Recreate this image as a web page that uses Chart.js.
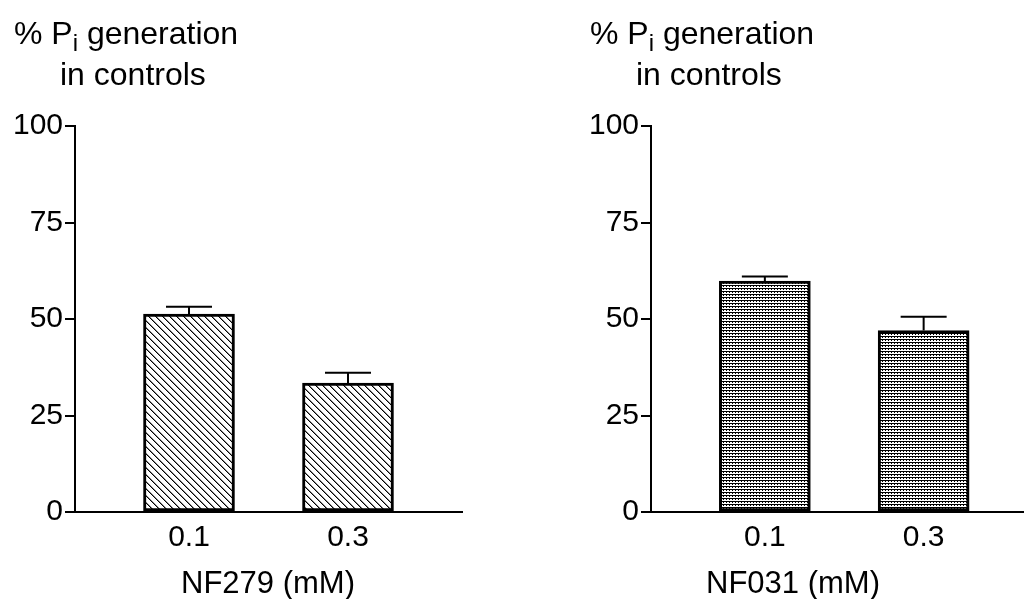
<!DOCTYPE html>
<html>
<head>
<meta charset="utf-8">
<script src="https://cdn.jsdelivr.net/npm/chart.js@4.4.1/dist/chart.umd.min.js"></script>
<style>
  html, body { margin: 0; padding: 0; background: #fff; overflow: hidden; }
  canvas { position: absolute; top: 0; }
  #nf279Chart { left: 0; }
  #nf031Chart { left: 512px; }
</style>
</head>
<body>
<canvas id="nf279Chart" width="512" height="599"></canvas>
<canvas id="nf031Chart" width="512" height="599"></canvas>
<script>
// dose groups and results, % of control Pi generation (mean, SEM)
const doseLabels = ['0.1', '0.3'];
const nf279Mean = [51.3, 33.4];
const nf279Sem = [1.9, 2.7];
const nf031Mean = [59.8, 47.0];
const nf031Sem = [1.2, 3.6];
const yTicks = [0, 25, 50, 75, 100];

const FONT = '"Liberation Sans", Arial, Helvetica, sans-serif';
Chart.defaults.font.family = FONT;
Chart.defaults.color = '#000';

// diagonal hatch fill
function hatchPattern() {
  const c = document.createElement('canvas');
  c.width = 7; c.height = 7;
  const g = c.getContext('2d');
  g.fillStyle = '#fff';
  g.fillRect(0, 0, 7, 7);
  for (let i = 0; i < 7; i++) {
    g.fillStyle = '#000';
    g.fillRect(i, i, 1, 1);
    g.fillStyle = '#888';
    g.fillRect((i + 1) % 7, i, 1, 1);
  }
  return g.createPattern(c, 'repeat');
}

// fine stipple fill: dotted rows
function stipplePattern() {
  const c = document.createElement('canvas');
  c.width = 3; c.height = 3;
  const g = c.getContext('2d');
  g.fillStyle = '#fff';
  g.fillRect(0, 0, 3, 3);
  g.fillStyle = '#000';
  g.fillRect(0, 0, 3, 1);
  g.fillRect(1, 1, 1, 1);
  return g.createPattern(c, 'repeat');
}

// upper error bars (SEM)
const errorBars = {
  id: 'errorBars',
  afterDatasetsDraw(chart) {
    const { ctx } = chart;
    const yScale = chart.scales.y;
    chart.data.datasets.forEach((ds, di) => {
      chart.getDatasetMeta(di).data.forEach((bar, i) => {
        const top = yScale.getPixelForValue(ds.data[i].y + ds.sems[i]);
        ctx.save();
        ctx.strokeStyle = '#000';
        ctx.lineWidth = 2;
        ctx.beginPath();
        ctx.moveTo(bar.x, bar.y);
        ctx.lineTo(bar.x, top);
        ctx.moveTo(bar.x - 23, top);
        ctx.lineTo(bar.x + 23, top);
        ctx.stroke();
        ctx.restore();
      });
    });
  }
};

// horizontal y-axis title with subscript, plus x-axis title
const panelText = {
  id: 'panelText',
  afterDraw(chart, args, opts) {
    const { ctx, chartArea } = chart;
    ctx.save();
    ctx.fillStyle = '#000';
    ctx.textBaseline = 'alphabetic';
    ctx.textAlign = 'left';
    let x = chartArea.left - 61;
    ctx.font = '32px ' + FONT;
    ctx.fillText('% P', x, 44);
    x += ctx.measureText('% P').width;
    ctx.font = '24px ' + FONT;
    ctx.fillText('i', x, 51);
    x += ctx.measureText('i').width;
    ctx.font = '32px ' + FONT;
    ctx.fillText(' generation', x, 44);
    ctx.fillText('in controls', chartArea.left - 15, 85);
    ctx.font = '31px ' + FONT;
    ctx.textAlign = 'center';
    ctx.fillText(opts.xTitle, opts.xTitleCenter, 593);
    ctx.restore();
  }
};

function makeChart(id, means, sems, fill, cfg) {
  return new Chart(document.getElementById(id), {
    type: 'bar',
    data: {
      datasets: [{
        data: means.map((v, i) => ({ x: i, y: v })),
        sems: sems,
        backgroundColor: fill,
        borderColor: '#000',
        borderWidth: 3,
        borderSkipped: false,
        barThickness: 91
      }]
    },
    options: {
      responsive: false,
      animation: false,
      events: [],
      layout: { padding: { top: 126, right: cfg.padRight, left: 0, bottom: 0 } },
      plugins: {
        legend: { display: false },
        tooltip: { enabled: false },
        panelText: { xTitle: cfg.xTitle, xTitleCenter: cfg.xTitleCenter }
      },
      scales: {
        x: {
          type: 'linear',
          offset: false,
          min: -0.717,
          max: cfg.xMax,
          afterBuildTicks: (s) => { s.ticks = doseLabels.map((_, i) => ({ value: i })); },
          afterFit: (s) => { s.height = 87; },
          ticks: {
            callback: (v) => doseLabels[v],
            font: { size: 30 },
            color: '#000',
            padding: 8,
            maxRotation: 0,
            autoSkip: false
          },
          grid: { display: false, drawTicks: false, tickLength: 0, offset: false },
          border: { display: true, color: '#000', width: 2 }
        },
        y: {
          min: 0,
          max: 100,
          afterBuildTicks: (s) => { s.ticks = yTicks.map((v) => ({ value: v })); },
          afterFit: (s) => { s.width = cfg.axisLeft; },
          ticks: { font: { size: 30 }, color: '#000', padding: 2 },
          grid: { drawOnChartArea: false, drawTicks: true, tickLength: 10, color: '#000', lineWidth: 2 },
          border: { display: true, color: '#000', width: 2 }
        }
      }
    },
    plugins: [errorBars, panelText]
  });
}

makeChart('nf279Chart', nf279Mean, nf279Sem, hatchPattern(), {
  axisLeft: 75, padRight: 50, xMax: 1.717, xTitle: 'NF279 (mM)', xTitleCenter: 268
});
makeChart('nf031Chart', nf031Mean, nf031Sem, stipplePattern(), {
  axisLeft: 139, padRight: 0, xMax: 1.632, xTitle: 'NF031 (mM)', xTitleCenter: 281
});
</script>
</body>
</html>
